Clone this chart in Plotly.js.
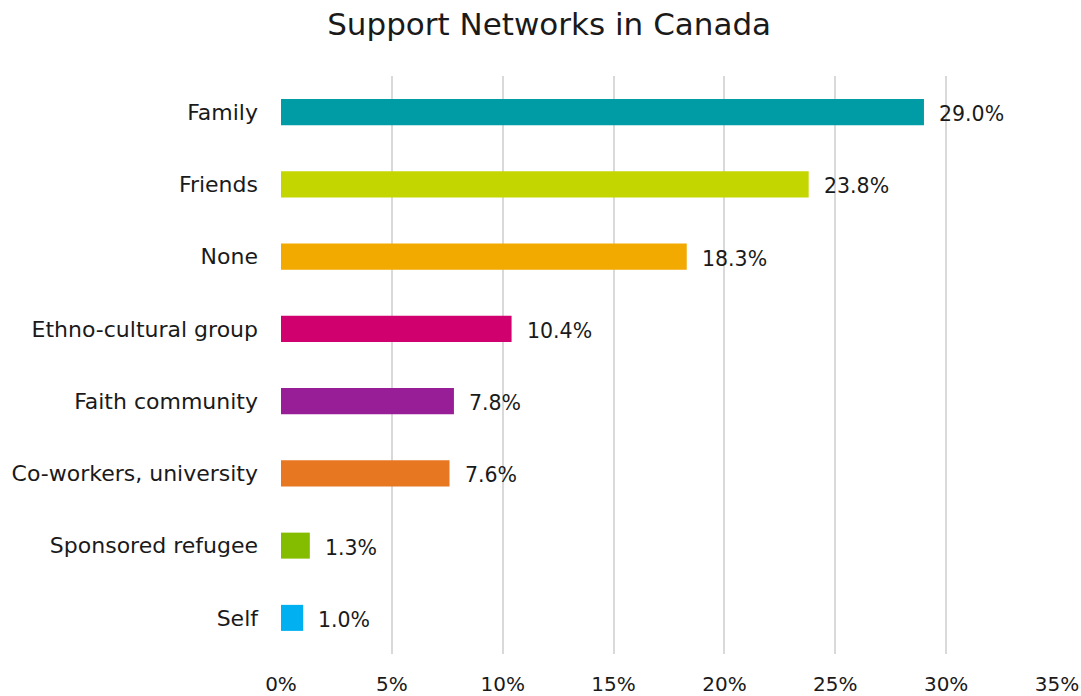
<!DOCTYPE html>
<html>
<head>
<meta charset="utf-8">
<script src="https://cdn.plot.ly/plotly-3.0.1.min.js"></script>
<style>html,body{margin:0;padding:0;background:#fff;}#chart{width:1081px;height:696px;}</style>
</head>
<body>
<div id="chart"></div>
<script>
const categories = ["Family", "Friends", "None", "Ethno-cultural group", "Faith community", "Co-workers, university", "Sponsored refugee", "Self"];
const values = [29.0, 23.8, 18.3, 10.4, 7.8, 7.6, 1.3, 1.0];
const barColors = ["#009CA6", "#C4D600", "#F2A900", "#D0006F", "#981E97", "#E87722", "#84BD00", "#00B0F0"];
const tickVals = [0, 5, 10, 15, 20, 25, 30, 35];
const tickText = ["0%", "5%", "10%", "15%", "20%", "25%", "30%", "35%"];

const font = "DejaVu Sans, sans-serif";
const trace = {
  type: "bar",
  orientation: "h",
  y: categories,
  x: values,
  marker: { color: barColors },
  hoverinfo: "none"
};
const annotations = categories.map((c, i) => ({
  x: values[i], y: c, xref: "x", yref: "y",
  text: values[i].toFixed(1) + "%",
  showarrow: false, xanchor: "left", xshift: 13, yshift: -2,
  font: { family: font, size: 20.5, color: "#1a1a1a" }
}));
const layout = {
  width: 1081, height: 696,
  margin: { l: 281, r: 24, t: 76, b: 42 },
  paper_bgcolor: "#fff", plot_bgcolor: "#fff",
  bargap: 0.64,
  showlegend: false,
  title: { text: "Support Networks in Canada", x: 0.508, xanchor: "center", y: 0.965, yanchor: "middle",
           font: { family: font, size: 31, color: "#1a1a1a" } },
  xaxis: {
    range: [0, 35], tickvals: tickVals, ticktext: tickText,
    showgrid: true, gridcolor: "#d9d9d9", gridwidth: 2, zeroline: false,
    showline: false, ticks: "", ticklen: 0, ticklabelstandoff: 16,
    tickfont: { family: font, size: 20, color: "#1a1a1a" }
  },
  yaxis: {
    autorange: "reversed", showgrid: false, zeroline: false, showline: false,
    ticks: "", ticklabelstandoff: 22,
    tickfont: { family: font, size: 22, color: "#1a1a1a" }
  },
  annotations: annotations
};
Plotly.newPlot("chart", [trace], layout, { displayModeBar: false, staticPlot: true });
</script>
</body>
</html>
